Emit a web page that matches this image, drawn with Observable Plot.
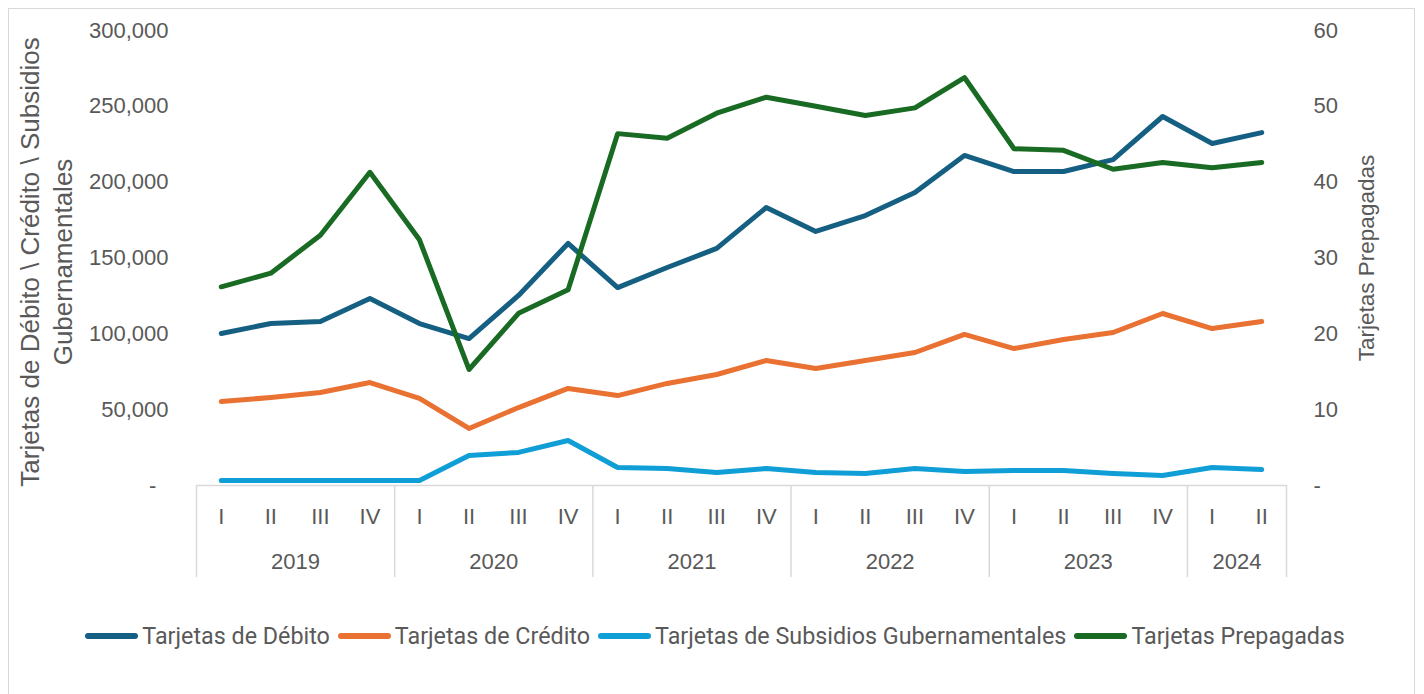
<!DOCTYPE html>
<html>
<head>
<meta charset="utf-8">
<script src="https://cdn.jsdelivr.net/npm/d3@7"></script>
<script src="https://cdn.jsdelivr.net/npm/@observablehq/plot@0.6"></script>
<style>
  body { margin: 0; background: #fff; }
  #wrap { position: relative; width: 1424px; height: 694px; overflow: hidden; background: #fff; }
  #frame { position: absolute; left: 8px; top: 8px; width: 1407px; height: 720px; border: 1.5px solid #d9d9d9; box-sizing: border-box; }
  .layer { position: absolute; left: 0; top: 0; }
  .layer svg { overflow: visible; }
  #legend { position: absolute; left: 7px; top: 622px; width: 1424px; display: flex; justify-content: center; align-items: center;
            font-family: Roboto, "Liberation Sans", sans-serif; font-size: 23.3px; color: #595959; }
  .item { display: flex; align-items: center; margin-right: 8px; }
  .sw { display: inline-block; width: 53px; height: 6px; border-radius: 3px; margin-right: 4px; }
</style>
</head>
<body>
<div id="wrap">
  <div id="frame"></div>
  <div id="c1" class="layer"></div>
  <div id="c2" class="layer"></div>
  <div id="legend"></div>
</div>
<script>
// ---- Data ----
const yearOf = [2019,2019,2019,2019, 2020,2020,2020,2020, 2021,2021,2021,2021, 2022,2022,2022,2022, 2023,2023,2023,2023, 2024,2024];
const quarterOf = ["I","II","III","IV", "I","II","III","IV", "I","II","III","IV", "I","II","III","IV", "I","II","III","IV", "I","II"];

const debito     = [100200,106800,108100,123300, 106800,96900,125300,159600, 130500,143700,156300,183300, 167500,178000,193200,217600, 207000,207000,214900,243300, 225500,232700];
const credito    = [55400,58000,61300,67900, 57400,37600,51400,64000, 59300,67300,73200,82400, 77100,82400,87700,99600, 90300,96300,100900,113400, 103500,108100];
const subsidios  = [3300,3300,3300,3300, 3300,19800,21800,29700, 11900,11200,8600,11200, 8600,7900,11200,9200, 9900,9900,7900,6600, 11900,10500];
const prepagadas = [26.2,28.0,33.0,41.3, 32.4,15.3,22.7,25.8, 46.4,45.8,49.1,51.2, 50.0,48.8,49.8,53.8, 44.4,44.2,41.7,42.6, 41.9,42.6];

const seriesNames = ["Tarjetas de Débito","Tarjetas de Crédito","Tarjetas de Subsidios Gubernamentales","Tarjetas Prepagadas"];
const seriesColors = ["#156082","#E97132","#0F9ED5","#196B24"];

const leftTicks = [0,50000,100000,150000,200000,250000,300000];
const rightTicks = [0,10,20,30,40,50,60];
const leftTitle = "Tarjetas de Débito \\ Crédito \\ Subsidios\nGubernamentales";
const rightTitle = "Tarjetas Prepagadas";

// ---- Derived helpers ----
const idx = d3.range(yearOf.length);
const years = Array.from(new Set(yearOf));
const yearGroups = years.map(y => {
  const ii = idx.filter(i => yearOf[i] === y);
  return {year: String(y), first: ii[0], last: ii[ii.length - 1], mid: (ii[0] + ii[ii.length - 1]) / 2};
});
const boundaries = yearGroups.map(g => g.first - 0.5).concat([yearGroups[yearGroups.length - 1].last + 0.5]);

const common = {
  width: 1424, height: 600,
  marginLeft: 196, marginRight: 138, marginTop: 30, marginBottom: 115,
  style: {fontFamily: "'Liberation Sans', Arial, sans-serif", fontSize: "22px", color: "#595959", background: "transparent", overflow: "visible"}
};
const xDomain = [-0.5, yearOf.length - 0.5];
const lineOpts = {strokeWidth: 5, strokeLinecap: "round", strokeLinejoin: "round"};
const fmt = d3.format(",");

const plot1 = Plot.plot({
  ...common,
  x: {type: "linear", domain: xDomain},
  y: {domain: [0, 300000]},
  marks: [
    Plot.ruleY([0], {stroke: "#d9d9d9", strokeWidth: 1.5}),
    Plot.axisX({ticks: boundaries, tickSize: 92, tickFormat: () => "", stroke: "#d9d9d9", strokeWidth: 1.5, label: null}),
    Plot.axisX({ticks: idx, tickSize: 0, tickPadding: 23, tickFormat: i => quarterOf[i], label: null, fontSize: 22}),
    Plot.text(yearGroups, {x: "mid", text: "year", frameAnchor: "bottom", dy: 83, fontSize: 22, fill: "#595959"}),
    Plot.axisY({ticks: leftTicks, tickSize: 0, tickPadding: 28, tickFormat: d => d === 0 ? "-\u00a0\u00a0" : fmt(d), label: null, fontSize: 22}),
    Plot.text([leftTitle], {text: d => d, frameAnchor: "left", textAnchor: "middle", lineAnchor: "middle", dx: -152, dy: 4, rotate: -90, lineHeight: 1.27, fontSize: 26, fill: "#595959"}),
    Plot.lineY(debito, {x: (d, i) => i, y: d => d, stroke: seriesColors[0], ...lineOpts}),
    Plot.lineY(credito, {x: (d, i) => i, y: d => d, stroke: seriesColors[1], ...lineOpts}),
    Plot.lineY(subsidios, {x: (d, i) => i, y: d => d, stroke: seriesColors[2], ...lineOpts})
  ]
});

const plot2 = Plot.plot({
  ...common,
  x: {type: "linear", domain: xDomain, axis: null},
  y: {domain: [0, 60]},
  marks: [
    Plot.axisY({anchor: "right", ticks: rightTicks, tickSize: 0, tickPadding: 27, tickFormat: d => d === 0 ? "-" : String(d), label: null, fontSize: 22}),
    Plot.text([rightTitle], {text: d => d, frameAnchor: "right", textAnchor: "middle", lineAnchor: "middle", dx: 80, rotate: -90, fontSize: 22.5, fill: "#595959"}),
    Plot.lineY(prepagadas, {x: (d, i) => i, y: d => d, stroke: seriesColors[3], ...lineOpts})
  ]
});

document.getElementById("c1").appendChild(plot1);
document.getElementById("c2").appendChild(plot2);

const legend = document.getElementById("legend");
seriesNames.forEach((name, k) => {
  const item = document.createElement("div");
  item.className = "item";
  const sw = document.createElement("span");
  sw.className = "sw";
  sw.style.background = seriesColors[k];
  const tx = document.createElement("span");
  tx.textContent = name;
  item.appendChild(sw);
  item.appendChild(tx);
  legend.appendChild(item);
});
</script>
</body>
</html>
